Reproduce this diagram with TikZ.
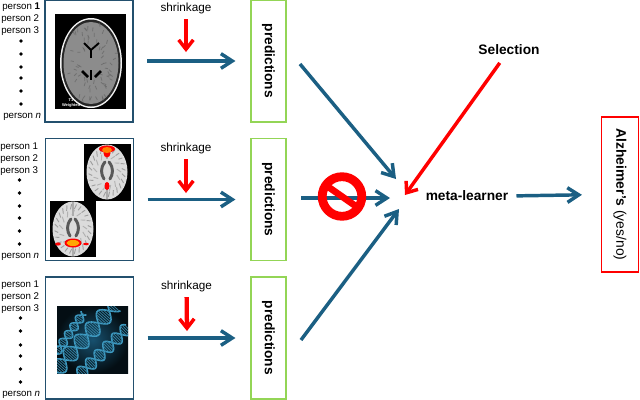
\documentclass[tikz,border=0pt]{standalone}
\usepackage{fontspec}
\setmainfont{Liberation Sans}
\usetikzlibrary{arrows.meta}
\definecolor{flow}{HTML}{1B5F83}
\definecolor{panel}{HTML}{23506E}
\definecolor{predgreen}{HTML}{93D556}
\definecolor{redline}{HTML}{FF0000}
\definecolor{helixblue}{HTML}{3E9CC4}
\tikzset{
  x=0.75pt, y=-0.75pt,
  flowarrow/.style={draw=flow, line width=2.6pt, -{Straight Barb[length=8.5pt,width=11pt,line width=2.6pt]}},
  redarrow/.style={draw=redline, line width=2.6pt, -{Straight Barb[length=7pt,width=11pt,line width=2.6pt]}},
  panelbox/.style={draw=panel, line width=1.1pt, minimum width=66pt, minimum height=91.5pt, inner sep=0pt},
  predbox/.style={draw=predgreen, line width=1.1pt, rotate=-90, minimum width=91.5pt, minimum height=26.5pt, inner sep=0pt, font=\fontsize{10.3}{12}\selectfont\bfseries},
  txt/.style={inner sep=0pt, font=\fontsize{7.3}{9}\selectfont},
  shrink/.style={inner sep=0pt, font=\fontsize{8.8}{10}\selectfont},
  boldtxt/.style={inner sep=0pt, font=\fontsize{10.3}{12}\selectfont\bfseries},
  dot/.style={circle, fill=black, minimum size=2.7pt, inner sep=0pt},
}
% axial slice with grey sulci and ventricles
\newcommand{\greyslice}[2]{
  \begin{scope}[shift={(#1,#2)}]
    \fill[gray!28] (0,0) ellipse [x radius=20.5, y radius=27.5];
    \foreach \a in {5,20,...,355} {
      \draw[gray!75, line width=0.7pt] (\a:15 and 20) -- (\a+6:18.5 and 25);
    }
    \foreach \a in {12,40,...,355} {
      \draw[gray!60, line width=0.7pt] (\a:10 and 14) -- (\a+12:14 and 19);
    }
    \draw[gray!70!black, line width=2.2pt, line cap=round] (-2,-10) .. controls (-7,-4) and (-6,2) .. (-3,7);
    \draw[gray!70!black, line width=2.2pt, line cap=round] (2,-10) .. controls (7,-4) and (6,2) .. (3,7);
    \draw[gray!65, line width=0.8pt] (0,-27) -- (0,-13);
    \draw[gray!65, line width=0.8pt] (0,13) -- (0,27);
  \end{scope}
}
% one helix, #1,#2 start, #3 length, #4 angle, #5 half width, #6 period
\newcommand{\helix}[6]{
  \begin{scope}[shift={(#1,#2)}, rotate=#4]
    \draw[helixblue, line width=1.2pt, domain=0:#3, samples=50, smooth] plot (\x, {#5*sin(\x/#6*360)});
    \draw[helixblue, line width=1.2pt, domain=0:#3, samples=50, smooth] plot (\x, {-#5*sin(\x/#6*360)});
    \foreach \r in {1,3,...,#3} {
      \draw[helixblue!80!black, line width=0.6pt] (\r, {#5*sin(\r/#6*360)}) -- (\r, {-#5*sin(\r/#6*360)});
    }
  \end{scope}
}
\begin{document}
\begin{tikzpicture}
\useasboundingbox (0,0) rectangle (640,400);

% panels
\node[panelbox] (panelA) at (89,61) {};
\node[panelbox] (panelB) at (89.5,199.5) {};
\node[panelbox] (panelC) at (89.5,338) {};

% T1 slice
\fill[black] (55,14) rectangle (126,109);
\fill[gray!10] (91,63) ellipse [x radius=31, y radius=45];
\fill[black!85] (91,63) ellipse [x radius=29.5, y radius=43.5];
\fill[gray!90] (91,63) ellipse [x radius=27.5, y radius=41];
\pgfmathsetseed{7}
\foreach \n in {1,...,70} {
  \pgfmathsetmacro{\ang}{rnd*360}
  \pgfmathsetmacro{\rad}{0.35+0.6*rnd}
  \pgfmathsetmacro{\tw}{rnd*80-40}
  \draw[black!60, line width=0.6pt, opacity=0.7] (91,63) ++(\ang:{27*\rad} and {41*\rad}) -- ++(\ang+\tw:3 and 4);
}
\draw[black, line width=1.4pt] (84,43) -- (91,50) -- (99,43);
\draw[black, line width=1.4pt] (91,50) -- (91,58);
\draw[black, line width=1.9pt] (82,71) -- (88,77);
\draw[black, line width=1.9pt] (101,71) -- (95,77);
\draw[black, line width=1.5pt] (91,70) -- (91,80);
\node[inner sep=0pt, text=white, font=\fontsize{3}{3.4}\selectfont\bfseries, align=center] (tone) at (71,103) {T1\\Weighted};

% functional slices
\fill[black] (84,143.5) rectangle (130.5,201);
\greyslice{107}{172}
\fill[black] (50,201) rectangle (96,257);
\greyslice{73}{229}
\fill[red] (107,149) ellipse [x radius=8, y radius=3.5];
\fill[red] (107,153) ellipse [x radius=3.5, y radius=4.5];
\fill[orange] (107,150) ellipse [x radius=5, y radius=3];
\fill[red] (107,186) ellipse [x radius=2.5, y radius=4];
\fill[red] (73,243) ellipse [x radius=8.5, y radius=4.5];
\fill[orange!70!yellow] (73,243) ellipse [x radius=6.5, y radius=3];
\fill[red] (58,244) ellipse [x radius=2.8, y radius=1.6];
\fill[red] (86,244) ellipse [x radius=2.8, y radius=1.2];

% DNA image
\begin{scope}
  \clip (57,306) rectangle (128,373);
  \shade[inner color=flow!85!black, outer color=black!85!flow] (57,306) rectangle (128,373);
  \helix{55}{354}{50}{55}{4.5}{19}
  \helix{54}{372}{90}{48}{8.5}{33}
  \helix{78}{376}{70}{44}{6.5}{24}
\end{scope}

% person lists
\node[txt, anchor=west] (a1) at (2,7) {person \textbf{1}};
\node[txt, anchor=west] (a2) at (1,19) {person 2};
\node[txt, anchor=west] (a3) at (1,31) {person 3};
\node[txt, anchor=west] (an) at (3,117) {person \textit{n}};
\node[dot] (ad1) at (21,41) {};
\node[dot] (ad2) at (21,54) {};
\node[dot] (ad3) at (21,67) {};
\node[dot] (ad4) at (21,78) {};
\node[dot] (ad5) at (21,91) {};
\node[dot] (ad6) at (21,104) {};

\node[txt, anchor=west] (b1) at (0,147) {person 1};
\node[txt, anchor=west] (b2) at (0,159) {person 2};
\node[txt, anchor=west] (b3) at (0,171) {person 3};
\node[txt, anchor=west] (bn) at (1,257) {person \textit{n}};
\node[dot] (bd1) at (19.5,180) {};
\node[dot] (bd2) at (19.5,193) {};
\node[dot] (bd3) at (19.5,206) {};
\node[dot] (bd4) at (19.5,218) {};
\node[dot] (bd5) at (19.5,231) {};
\node[dot] (bd6) at (19.5,244) {};

\node[txt, anchor=west] (c1) at (1,285) {person 1};
\node[txt, anchor=west] (c2) at (1,297) {person 2};
\node[txt, anchor=west] (c3) at (1,309) {person 3};
\node[txt, anchor=west] (cn) at (2,395) {person \textit{n}};
\node[dot] (cd1) at (20.5,318) {};
\node[dot] (cd2) at (20.5,331) {};
\node[dot] (cd3) at (20.5,345) {};
\node[dot] (cd4) at (20.5,356) {};
\node[dot] (cd5) at (20.5,369) {};
\node[dot] (cd6) at (20.5,382) {};

% predictions
\node[predbox] (predA) at (268.5,61) {predictions};
\node[predbox] (predB) at (268.5,199.5) {predictions};
\node[predbox] (predC) at (268.5,338) {predictions};

% panel to predictions
\draw[flowarrow, shorten <=10pt, shorten >=11pt] (panelA.east) -- (predA.south);
\draw[flowarrow, shorten <=10pt, shorten >=11pt] (panelB.east) -- (predB.south);
\draw[flowarrow, shorten <=10pt, shorten >=11pt] (panelC.east) -- (predC.south);

% shrinkage
\node[shrink] (shA) at (186,8) {shrinkage};
\node[shrink] (shB) at (186,148) {shrinkage};
\node[shrink] (shC) at (186.5,286) {shrinkage};
\coordinate (shAend) at (186,52);
\coordinate (shBend) at (186,193);
\coordinate (shCend) at (187,331);
\draw[redarrow, line width=3.2pt, shorten <=4pt] (shA) -- (shAend);
\draw[redarrow, line width=3.2pt, shorten <=4pt] (shB) -- (shBend);
\draw[redarrow, line width=3.2pt, shorten <=4pt] (shC) -- (shCend);

% into the meta-learner
\node[boldtxt] (meta) at (467,196) {meta-learner};
\node[boldtxt] (sel) at (509,50) {Selection};
\coordinate (fromA) at (300,64);
\coordinate (fromB) at (301,198);
\coordinate (fromC) at (301,340);
\coordinate (toA) at (396,179);
\coordinate (toB) at (390,198);
\coordinate (toC) at (399,209);
\coordinate (toS) at (405,195);
\draw[flowarrow] (fromA) -- (toA);
\draw[flowarrow] (fromB) -- (toB);
\draw[flowarrow] (fromC) -- (toC);
\draw[redarrow, shorten <=7pt] (sel) -- (toS);

% no sign
\draw[red, line width=6.6pt] (342,196.5) circle [radius=19.8];
\draw[red, line width=5pt] (327,186) -- (357,207);

% output
\node[draw=redline, line width=1.1pt, rotate=-90, minimum width=116pt, minimum height=28pt, inner sep=0pt, font=\fontsize{10.4}{12}\selectfont] (alz) at (620,194.5) {\textbf{Alzheimer's} (yes/no)};
\draw[flowarrow, shorten <=6pt, shorten >=14pt] (meta.east) -- (alz.south);
\end{tikzpicture}
\end{document}
